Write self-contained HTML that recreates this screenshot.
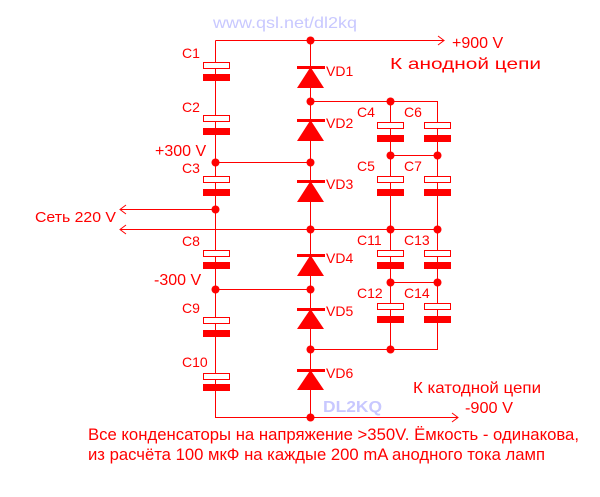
<!DOCTYPE html>
<html><head><meta charset="utf-8"><style>html,body{margin:0;padding:0;background:#fff}svg{display:block}</style></head><body>
<svg width="600" height="497" viewBox="0 0 600 497" xmlns="http://www.w3.org/2000/svg" font-family="Liberation Sans, sans-serif">
<g stroke="#f00" stroke-width="1" fill="none">
<path d="M215.5 40.5H444.5M438 36l6 4.5-6 4.5"/>
<path d="M215.5 40.5V417.5H458M452 413l6 4.5-6 4.5"/>
<path d="M310.5 40.5V417.5"/>
<path d="M215.5 162.5H310.5M215.5 289.5H310.5"/>
<path d="M120 209.5H215.5M126 205l-6 4.5 6 4.5"/>
<path d="M120 229.5H437.5M126 225l-6 4.5 6 4.5"/>
<path d="M310.5 101.5H437.5V349.5H310.5"/>
<path d="M390.5 101.5V349.5"/>
<path d="M390.5 155.5H437.5M390.5 282.5H437.5"/>
</g>
<g fill="#fff" stroke="#f00">
<rect x="203.5" y="62.5" width="26" height="6"/><rect x="203.5" y="115.5" width="26" height="6"/><rect x="203.5" y="176.5" width="26" height="6"/><rect x="203.5" y="250.5" width="26" height="6"/><rect x="203.5" y="317.5" width="26" height="6"/><rect x="203.5" y="373.5" width="26" height="6"/>
<rect x="377.5" y="122.5" width="26" height="6"/><rect x="424.5" y="122.5" width="26" height="6"/>
<rect x="377.5" y="176.5" width="26" height="6"/><rect x="424.5" y="176.5" width="26" height="6"/>
<rect x="377.5" y="250.5" width="26" height="6"/><rect x="424.5" y="250.5" width="26" height="6"/>
<rect x="377.5" y="303.5" width="26" height="6"/><rect x="424.5" y="303.5" width="26" height="6"/>
</g>
<g fill="#f00">
<rect x="203" y="74" width="27" height="7"/><rect x="203" y="128" width="27" height="7"/><rect x="203" y="189" width="27" height="7"/><rect x="203" y="262" width="27" height="7"/><rect x="203" y="330" width="27" height="7"/><rect x="203" y="384" width="27" height="7"/>
<rect x="377" y="135" width="27" height="7"/><rect x="424" y="135" width="27" height="7"/>
<rect x="377" y="189" width="27" height="7"/><rect x="424" y="189" width="27" height="7"/>
<rect x="377" y="262" width="27" height="7"/><rect x="424" y="262" width="27" height="7"/>
<rect x="377" y="316" width="27" height="7"/><rect x="424" y="316" width="27" height="7"/>
<rect x="297" y="66" width="28" height="3"/><path d="M310.5 67L297 88H324Z"/>
<rect x="297" y="119" width="28" height="3"/><path d="M310.5 120L297 141H324Z"/>
<rect x="297" y="180" width="28" height="3"/><path d="M310.5 181L297 202H324Z"/>
<rect x="297" y="254" width="28" height="3"/><path d="M310.5 255L297 276H324Z"/>
<rect x="297" y="308" width="28" height="3"/><path d="M310.5 309L297 329H324Z"/>
<rect x="297" y="369" width="28" height="3"/><path d="M310.5 370L297 390H324Z"/>
<circle cx="310.5" cy="40.5" r="4"/><circle cx="310.5" cy="101.5" r="4"/><circle cx="390.5" cy="101.5" r="4"/>
<circle cx="215.5" cy="162.5" r="4"/><circle cx="310.5" cy="162.5" r="4"/>
<circle cx="390.5" cy="155.5" r="4"/><circle cx="437.5" cy="155.5" r="4"/>
<circle cx="215.5" cy="209.5" r="4"/>
<circle cx="310.5" cy="229.5" r="4"/><circle cx="390.5" cy="229.5" r="4"/><circle cx="437.5" cy="229.5" r="4"/>
<circle cx="390.5" cy="282.5" r="4"/><circle cx="437.5" cy="282.5" r="4"/>
<circle cx="215.5" cy="289.5" r="4"/><circle cx="310.5" cy="289.5" r="4"/>
<circle cx="310.5" cy="349.5" r="4"/><circle cx="390.5" cy="349.5" r="4"/>
<circle cx="310.5" cy="417.5" r="4"/>
<g font-size="14">
<text x="182" y="58">C1</text><text x="182" y="112">C2</text><text x="182" y="173">C3</text>
<text x="182" y="246">C8</text><text x="182" y="313">C9</text><text x="182" y="367">C10</text>
<text x="357" y="117">C4</text><text x="404" y="117">C6</text>
<text x="357" y="171">C5</text><text x="404" y="171">C7</text>
<text x="357" y="245">C11</text><text x="404" y="245">C13</text>
<text x="357" y="298">C12</text><text x="404" y="298">C14</text>
<text x="326" y="76">VD1</text><text x="326" y="128">VD2</text><text x="326" y="189">VD3</text>
<text x="326" y="263">VD4</text><text x="326" y="316">VD5</text><text x="326" y="378">VD6</text>
</g>
<g font-size="16">
<text x="155" y="156">+300 V</text>
<text x="154" y="285">-300 V</text>
<text x="35" y="222" textLength="81" lengthAdjust="spacingAndGlyphs" font-size="15">Сеть 220 V</text>
<text x="452" y="48">+900 V</text>
<text x="390" y="69" textLength="151" lengthAdjust="spacingAndGlyphs">К анодной цепи</text>
<text x="413" y="393" textLength="128" lengthAdjust="spacingAndGlyphs">К катодной цепи</text>
<text x="465" y="413" textLength="48" lengthAdjust="spacingAndGlyphs">-900 V</text>
<text x="88" y="440" font-size="17" textLength="491" lengthAdjust="spacingAndGlyphs">Все конденсаторы на напряжение &gt;350V. Ёмкость - одинакова,</text>
<text x="88" y="460" font-size="17" textLength="457" lengthAdjust="spacingAndGlyphs">из расчёта 100 мкФ на каждые 200 mA анодного тока ламп</text>
</g>
<text x="213" y="28" font-size="16" fill="#c8c8ff" textLength="144" lengthAdjust="spacingAndGlyphs">www.qsl.net/dl2kq</text>
<text x="323" y="412" font-size="16" font-weight="bold" fill="#c8c8ff" textLength="59" lengthAdjust="spacingAndGlyphs">DL2KQ</text>
</g>
</svg>
</body></html>
